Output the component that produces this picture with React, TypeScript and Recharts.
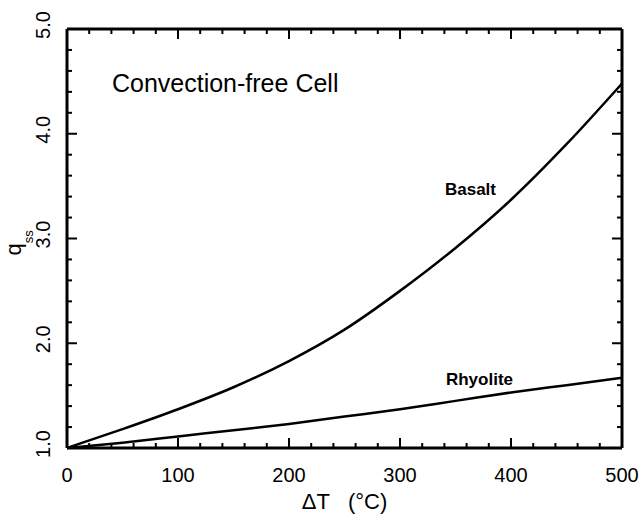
import { Label, Line, LineChart, ReferenceDot, XAxis, YAxis } from 'recharts'

const deltaT = [0, 50, 100, 150, 200, 250, 300, 350, 400, 450, 500]
const basalt = [1.0, 1.18, 1.37, 1.58, 1.83, 2.13, 2.5, 2.91, 3.37, 3.9, 4.48]
const rhyolite = [1.0, 1.05, 1.11, 1.17, 1.23, 1.3, 1.37, 1.45, 1.53, 1.6, 1.67]

const xTicks = [
  0, 20, 40, 60, 80, 100, 120, 140, 160, 180, 200, 220, 240, 260, 280, 300, 320, 340, 360, 380,
  400, 420, 440, 460, 480, 500,
]
const yTicks = [
  1.0, 1.2, 1.4, 1.6, 1.8, 2.0, 2.2, 2.4, 2.6, 2.8, 3.0, 3.2, 3.4, 3.6, 3.8, 4.0, 4.2, 4.4, 4.6,
  4.8, 5.0,
]

const data = deltaT.map((t, i) => ({ t, basalt: basalt[i], rhyolite: rhyolite[i] }))

const FONT = '"Liberation Sans", Arial, sans-serif'
const X_MIN = 0
const X_MAX = 500
const Y_MIN = 1
const Y_MAX = 5
const MAJOR = 10
const MINOR = 5

const isMajorX = (v: number) => v % 100 === 0
const isMajorY = (v: number) => Math.abs(v - Math.round(v)) < 1e-6

const renderBottomLabel = (p: any) => {
  const { x, y, payload, index } = p
  if (!isMajorX(payload.value)) return <g key={`b-${index}`} />
  return (
    <text key={`b-${index}`} x={x} y={y + 34} textAnchor="middle" fontSize={20} fontFamily={FONT} fill="#000">
      {payload.value}
    </text>
  )
}

const renderLeftLabel = (p: any) => {
  const { x, y, payload, index } = p
  if (!isMajorY(payload.value)) return <g key={`l-${index}`} />
  const lx = x - 17
  const ly = y - 4
  return (
    <text
      key={`l-${index}`}
      x={lx}
      y={ly}
      transform={`rotate(-90, ${lx}, ${ly})`}
      textAnchor="middle"
      fontSize={20}
      fontFamily={FONT}
      fill="#000"
    >
      {payload.value.toFixed(1)}
    </text>
  )
}

function XTitle({ viewBox }: any) {
  return (
    <text
      x={viewBox.x + viewBox.width / 2}
      y={viewBox.y + 61}
      textAnchor="middle"
      fontSize={22}
      fontFamily={FONT}
      fill="#000"
    >
      <tspan>ΔT</tspan>
      <tspan dx={18}>(°C)</tspan>
    </text>
  )
}

function YTitle({ viewBox }: any) {
  const lx = viewBox.x + 14
  const ly = viewBox.y + viewBox.height / 2 + 17
  return (
    <text
      x={lx}
      y={ly}
      transform={`rotate(-90, ${lx}, ${ly})`}
      textAnchor="start"
      fontSize={22}
      fontFamily={FONT}
      fill="#000"
    >
      q
      <tspan fontSize={13} dy={12}>
        ss
      </tspan>
    </text>
  )
}

const textShape =
  (value: string, size: number, weight: string) =>
  ({ cx, cy }: any) => (
    <text x={cx} y={cy} fontSize={size} fontWeight={weight} fontFamily={FONT} fill="#000">
      {value}
    </text>
  )

// a tick mark anchored at the dot, pointing into the plot by (dx, dy)
const tickShape =
  (dx: number, dy: number) =>
  ({ cx, cy }: any) => (
    <path d={`M${cx},${cy}l${dx},${dy}`} stroke="#000" strokeWidth={2} fill="none" />
  )

const tickMarks = [
  ...xTicks.flatMap((v) => {
    const len = isMajorX(v) ? MAJOR : MINOR
    return [
      { key: `xb-${v}`, x: v, y: Y_MIN, shape: tickShape(0, -len) },
      { key: `xt-${v}`, x: v, y: Y_MAX, shape: tickShape(0, len) },
    ]
  }),
  ...yTicks.flatMap((v) => {
    const len = isMajorY(v) ? MAJOR : MINOR
    return [
      { key: `yl-${v}`, x: X_MIN, y: v, shape: tickShape(len, 0) },
      { key: `yr-${v}`, x: X_MAX, y: v, shape: tickShape(-len, 0) },
    ]
  }),
]

const axisLine = { stroke: '#000', strokeWidth: 3 }

export default function App() {
  return (
    <div style={{ position: 'absolute', left: 0, top: 0, background: '#fff' }}>
      <LineChart width={643} height={515} data={data} margin={{ top: 19, right: 11, bottom: 7, left: 7 }}>
        <XAxis
          dataKey="t"
          type="number"
          domain={[X_MIN, X_MAX]}
          ticks={xTicks}
          interval={0}
          height={60}
          tickSize={0}
          tickMargin={0}
          tickLine={false}
          axisLine={axisLine}
          tick={renderBottomLabel}
        >
          <Label content={<XTitle />} />
        </XAxis>
        <XAxis
          xAxisId="top"
          orientation="top"
          dataKey="t"
          type="number"
          domain={[X_MIN, X_MAX]}
          height={10}
          tick={false}
          tickLine={false}
          axisLine={axisLine}
        />
        <YAxis
          type="number"
          domain={[Y_MIN, Y_MAX]}
          ticks={yTicks}
          interval={0}
          width={60}
          tickSize={0}
          tickMargin={0}
          tickLine={false}
          axisLine={axisLine}
          tick={renderLeftLabel}
        >
          <Label content={<YTitle />} />
        </YAxis>
        <YAxis
          yAxisId="right"
          orientation="right"
          type="number"
          domain={[Y_MIN, Y_MAX]}
          width={10}
          tick={false}
          tickLine={false}
          axisLine={axisLine}
        />

        {tickMarks.map((t) => (
          <ReferenceDot key={t.key} x={t.x} y={t.y} r={0} ifOverflow="visible" shape={t.shape} />
        ))}

        <Line
          type="monotone"
          dataKey="basalt"
          stroke="#000"
          strokeWidth={2.5}
          dot={false}
          isAnimationActive={false}
        />
        <Line
          type="monotone"
          dataKey="rhyolite"
          stroke="#000"
          strokeWidth={2.5}
          dot={false}
          isAnimationActive={false}
        />
        <ReferenceDot x={40.5} y={4.4} r={0} shape={textShape('Convection-free Cell', 25, 'normal')} />
        <ReferenceDot x={340.5} y={3.42} r={0} shape={textShape('Basalt', 17, 'bold')} />
        <ReferenceDot x={341.4} y={1.6} r={0} shape={textShape('Rhyolite', 17, 'bold')} />
      </LineChart>
    </div>
  )
}
